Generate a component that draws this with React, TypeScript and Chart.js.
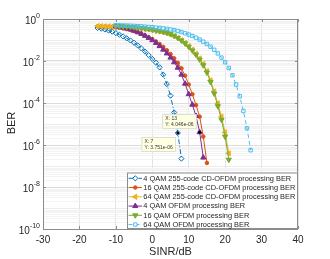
import React, { useEffect, useRef } from 'react';
import { Chart, registerables } from 'chart.js';
import { drawPoint } from 'chart.js/helpers';

Chart.register(...registerables);

const seriesLabels = [
  '4 QAM 255-code CD-OFDM processing BER',
  '16 QAM 255-code CD-OFDM processing BER',
  '64 QAM 255-code CD-OFDM processing BER',
  '4 QAM OFDM processing BER',
  '16 QAM OFDM processing BER',
  '64 QAM OFDM processing BER',
];

const xTicks = [-30, -20, -10, 0, 10, 20, 30, 40];
const yTickExponents = [0, -2, -4, -6, -8, -10];

// 4 QAM 255-code CD-OFDM
const sinr4qamCD = [-15, -14, -13, -12, -11, -10, -9, -8, -7, -6, -5, -4, -3, -2, -1, 0, 1, 2, 3, 4, 5, 6, 7, 8];
const ber4qamCD = [0.372, 0.347, 0.316, 0.282, 0.251, 0.214, 0.178, 0.148, 0.120, 0.0955, 0.0741, 0.0550, 0.0398, 0.0282, 0.0191, 0.0126, 0.00832, 0.00501, 0.00224, 7.94e-4, 2.24e-4, 3.55e-5, 3.751e-6, 2.24e-7];

// 16 QAM 255-code CD-OFDM
const sinr16qamCD = [-15, -14, -13, -12, -11, -10, -9, -8, -7, -6, -5, -4, -3, -2, -1, 0, 1, 2, 3, 4, 5, 6, 7, 8, 9, 10, 11, 12, 13, 14, 15];
const ber16qamCD = [0.447, 0.442, 0.437, 0.427, 0.417, 0.398, 0.380, 0.355, 0.331, 0.302, 0.269, 0.234, 0.200, 0.166, 0.135, 0.110, 0.0851, 0.0646, 0.0468, 0.0324, 0.0214, 0.0135, 0.00813, 0.00447, 0.00200, 7.59e-4, 2.63e-4, 7.94e-5, 2.24e-5, 2.51e-6, 1.4e-7];

// 64 QAM 255-code CD-OFDM
const sinr64qamCD = [-15, -14, -13, -12, -11, -10, -9, -8, -7, -6, -5, -4, -3, -2, -1, 0, 1, 2, 3, 4, 5, 6, 7, 8, 9, 10, 11, 12, 13, 14, 15, 16, 17, 18, 19, 20, 21];
const ber64qamCD = [0.457, 0.452, 0.447, 0.442, 0.437, 0.432, 0.427, 0.417, 0.407, 0.398, 0.385, 0.372, 0.355, 0.339, 0.320, 0.302, 0.282, 0.257, 0.234, 0.209, 0.182, 0.155, 0.126, 0.0977, 0.0724, 0.0513, 0.0347, 0.0219, 0.0132, 0.00724, 0.00331, 0.00120, 3.55e-4, 9.55e-5, 2.24e-5, 3.98e-6, 3.98e-7];

// 4 QAM OFDM
const sinr4qam = [-10, -9, -8, -7, -6, -5, -4, -3, -2, -1, 0, 1, 2, 3, 4, 5, 6, 7, 8, 9, 10, 11, 12, 13, 14];
const ber4qam = [0.457, 0.427, 0.389, 0.355, 0.316, 0.275, 0.234, 0.195, 0.158, 0.126, 0.0977, 0.0724, 0.0513, 0.0347, 0.0229, 0.0145, 0.00871, 0.00479, 0.00224, 8.32e-4, 2.63e-4, 8.32e-5, 2.40e-5, 4.046e-6, 2.51e-7];

// 16 QAM OFDM
const sinr16qam = [-10, -9, -8, -7, -6, -5, -4, -3, -2, -1, 0, 1, 2, 3, 4, 5, 6, 7, 8, 9, 10, 11, 12, 13, 14, 15, 16, 17, 18, 19, 20, 21];
const ber16qam = [0.468, 0.457, 0.447, 0.437, 0.422, 0.407, 0.389, 0.372, 0.351, 0.331, 0.309, 0.285, 0.263, 0.243, 0.224, 0.191, 0.158, 0.126, 0.0955, 0.0692, 0.0479, 0.0316, 0.0200, 0.0117, 0.00631, 0.00282, 0.00100, 2.82e-4, 7.08e-5, 1.58e-5, 2.51e-6, 2.0e-7];

// 64 QAM OFDM
const sinr64qam = [-10, -9, -8, -7, -6, -5, -4, -3, -2, -1, 0, 1, 2, 3, 4, 5, 6, 7, 8, 9, 10, 11, 12, 13, 14, 15, 16, 17, 18, 19, 20, 21, 22, 23, 24, 25, 26, 27];
const ber64qam = [0.501, 0.495, 0.490, 0.484, 0.479, 0.468, 0.457, 0.447, 0.432, 0.417, 0.403, 0.389, 0.372, 0.355, 0.339, 0.316, 0.295, 0.269, 0.240, 0.209, 0.182, 0.155, 0.129, 0.105, 0.0832, 0.0646, 0.0479, 0.0339, 0.0229, 0.0145, 0.00871, 0.00468, 0.00209, 7.59e-4, 2.09e-4, 4.17e-5, 6.31e-6, 5.62e-7];

// data tips: dataset index and SINR of the tagged point
const dataTips = [
  { series: 3, x: 13, text: ['X: 13', 'Y: 4.046e-06'], side: 'above' },
  { series: 0, x: 7, text: ['X: 7', 'Y: 3.751e-06'], side: 'below' },
];

const colors = ['#0072BD', '#D95319', '#EDB120', '#7E2F8E', '#77AC30', '#4DBEEE'];
const FONT = '"Liberation Sans", Arial, Helvetica, sans-serif';
const TEXT = '#262626';

const styles = [
  { pointStyle: 'rectRot', radius: 2.6, rotation: 0, fill: false, dash: [5, 2, 1, 2] },
  { pointStyle: 'circle', radius: 1.8, rotation: 0, fill: true, dash: [] },
  { pointStyle: 'triangle', radius: 3, rotation: -90, fill: true, dash: [] },
  { pointStyle: 'triangle', radius: 3, rotation: 0, fill: true, dash: [] },
  { pointStyle: 'triangle', radius: 3, rotation: 180, fill: true, dash: [] },
  { pointStyle: 'rect', radius: 2.4, rotation: 0, fill: false, dash: [4, 3] },
];

const xs = [sinr4qamCD, sinr16qamCD, sinr64qamCD, sinr4qam, sinr16qam, sinr64qam];
const ys = [ber4qamCD, ber16qamCD, ber64qamCD, ber4qam, ber16qam, ber64qam];

const isDecade = (v: number) => Math.abs(Math.log10(v) - Math.round(Math.log10(v))) < 1e-6;

const overlayPlugin = {
  id: 'overlay',
  afterDatasetsDraw(chart: any) {
    const ctx = chart.ctx;
    const ca = chart.chartArea;
    const xS = chart.scales.x;
    const yS = chart.scales.y;
    ctx.save();
    // frame
    ctx.strokeStyle = '#8c8c8c';
    ctx.lineWidth = 1;
    ctx.setLineDash([]);
    ctx.strokeRect(Math.round(ca.left) + 0.5, Math.round(ca.top) + 0.5, Math.round(ca.right - ca.left) - 1, Math.round(ca.bottom - ca.top));
    // inside tick marks
    ctx.beginPath();
    xTicks.forEach((v) => {
      const px = Math.round(xS.getPixelForValue(v)) + 0.5;
      ctx.moveTo(px, ca.bottom);
      ctx.lineTo(px, ca.bottom - 3);
      ctx.moveTo(px, ca.top);
      ctx.lineTo(px, ca.top + 3);
    });
    yTickExponents.forEach((e) => {
      const py = Math.round(yS.getPixelForValue(Math.pow(10, e))) + 0.5;
      ctx.moveTo(ca.left, py);
      ctx.lineTo(ca.left + 3, py);
      ctx.moveTo(ca.right, py);
      ctx.lineTo(ca.right - 3, py);
    });
    ctx.stroke();

    // data tips
    dataTips.forEach((tip) => {
      const meta = chart.getDatasetMeta(tip.series);
      const idx = xs[tip.series].indexOf(tip.x);
      const el = meta.data[idx];
      if (!el) return;
      const px = el.x;
      const py = el.y;
      ctx.font = `5px ${FONT}`;
      const w = Math.max(...tip.text.map((t) => ctx.measureText(t).width)) + 6;
      const h = 15;
      let bx: number, by: number;
      if (tip.side === 'above') {
        bx = px - 3 - w;
        by = py - 3 - h;
      } else {
        bx = px - 2 - w;
        by = py + 4;
      }
      ctx.fillStyle = '#ffffe1';
      ctx.fillRect(bx, by, w, h);
      ctx.strokeStyle = '#c8c8c8';
      ctx.lineWidth = 0.6;
      ctx.strokeRect(bx + 0.5, by + 0.5, w - 1, h - 1);
      ctx.fillStyle = '#333';
      ctx.textAlign = 'left';
      ctx.textBaseline = 'middle';
      ctx.fillText(tip.text[0], bx + 3, by + 4.5);
      ctx.fillText(tip.text[1], bx + 3, by + 10.5);
      ctx.fillStyle = '#000';
      ctx.beginPath();
      ctx.arc(px, py, 1.5, 0, Math.PI * 2);
      ctx.fill();
    });

    // legend
    const lx = 127, ly = 172.5, lw = ca.right - 127, lh = ca.bottom - 172.5;
    ctx.fillStyle = '#ffffff';
    ctx.fillRect(lx, ly, lw, lh);
    ctx.strokeStyle = '#8c8c8c';
    ctx.lineWidth = 1;
    ctx.strokeRect(lx + 0.5, ly + 0.5, lw - 1, lh - 1);
    ctx.font = `7.4px ${FONT}`;
    ctx.textBaseline = 'middle';
    ctx.textAlign = 'left';
    seriesLabels.forEach((label, i) => {
      const cy = ly + 5.8 + i * 9.25;
      const st = styles[i];
      ctx.strokeStyle = colors[i];
      ctx.lineWidth = 1;
      ctx.setLineDash(st.dash);
      ctx.beginPath();
      ctx.moveTo(128.5, cy);
      ctx.lineTo(142, cy);
      ctx.stroke();
      ctx.setLineDash([]);
      ctx.fillStyle = st.fill ? colors[i] : '#ffffff';
      ctx.strokeStyle = colors[i];
      drawPoint(ctx, { pointStyle: st.pointStyle, radius: st.radius, rotation: st.rotation, borderWidth: 1 } as any, 135.3, cy);
      ctx.fillStyle = TEXT;
      ctx.fillText(label, 143.3, cy + 0.3);
    });

    // y tick labels
    ctx.fillStyle = TEXT;
    ctx.textBaseline = 'middle';
    yTickExponents.forEach((e) => {
      const py = yS.getPixelForValue(Math.pow(10, e));
      const rx = ca.left - 3;
      ctx.font = `7px ${FONT}`;
      const expText = String(e);
      const ew = ctx.measureText(expText).width;
      ctx.textAlign = 'right';
      ctx.fillText(expText, rx, py - 2.5);
      ctx.font = `10px ${FONT}`;
      ctx.fillText('10', rx - ew, py + 2.7);
    });
    // x tick labels
    ctx.font = `10px ${FONT}`;
    ctx.textAlign = 'center';
    xTicks.forEach((v) => {
      ctx.fillText(String(v), xS.getPixelForValue(v), ca.bottom + 11);
    });
    // axis titles
    ctx.font = `11px ${FONT}`;
    ctx.fillText('SINR/dB', (ca.left + ca.right) / 2, ca.bottom + 22.5);
    ctx.save();
    ctx.translate(12, (ca.top + ca.bottom) / 2 - 1);
    ctx.rotate(-Math.PI / 2);
    ctx.fillText('BER', 0, 0);
    ctx.restore();
    ctx.restore();
  },
};

export default function App() {
  const ref = useRef<HTMLCanvasElement | null>(null);
  useEffect(() => {
    document.body.style.margin = '0';
    const canvas = ref.current;
    if (!canvas) return;
    const datasets = seriesLabels.map((label, i) => ({
      label,
      data: xs[i].map((x, j) => ({ x, y: ys[i][j] })),
      borderColor: colors[i],
      backgroundColor: colors[i],
      borderWidth: 1,
      borderDash: styles[i].dash,
      pointStyle: styles[i].pointStyle,
      pointRadius: styles[i].radius,
      pointRotation: styles[i].rotation,
      pointBackgroundColor: styles[i].fill ? colors[i] : 'rgba(0,0,0,0)',
      pointBorderColor: colors[i],
      pointBorderWidth: 1,
      showLine: true,
      tension: 0,
      order: 5 - i,
    }));
    const chart = new Chart(canvas, {
      type: 'line',
      data: { datasets },
      options: {
        animation: false,
        responsive: false,
        devicePixelRatio: 1,
        layout: { padding: { left: 43, top: 19, right: 32, bottom: 30 } },
        plugins: { legend: { display: false }, tooltip: { enabled: false } },
        scales: {
          x: {
            type: 'linear',
            min: -30,
            max: 40,
            ticks: { display: false, stepSize: 10 },
            grid: { color: '#e3e3e3', drawTicks: false, lineWidth: 1 },
            border: { display: false },
            afterFit: (s: any) => { s.height = 0; },
          },
          y: {
            type: 'logarithmic',
            min: 1e-10,
            max: 1,
            ticks: { display: false },
            afterBuildTicks: (s: any) => {
              const t: any[] = [];
              for (let e = -10; e < 0; e++) {
                for (let k = 1; k <= 9; k++) t.push({ value: k * Math.pow(10, e) });
              }
              t.push({ value: 1 });
              s.ticks = t;
            },
            grid: {
              drawTicks: false,
              color: (c: any) => {
                const v = c.tick ? c.tick.value : 0;
                if (!v) return '#f2f2f2';
                if (isDecade(v)) {
                  const e = Math.round(Math.log10(v));
                  return e % 2 === 0 ? '#dcdcdc' : '#ebebeb';
                }
                return '#f3f3f3';
              },
            },
            border: { display: false },
            afterFit: (s: any) => { s.width = 0; },
          },
        },
      } as any,
      plugins: [overlayPlugin],
    });
    return () => chart.destroy();
  }, []);
  return <canvas ref={ref} width={330} height={259} style={{ display: 'block', width: 330, height: 259 }} />;
}
